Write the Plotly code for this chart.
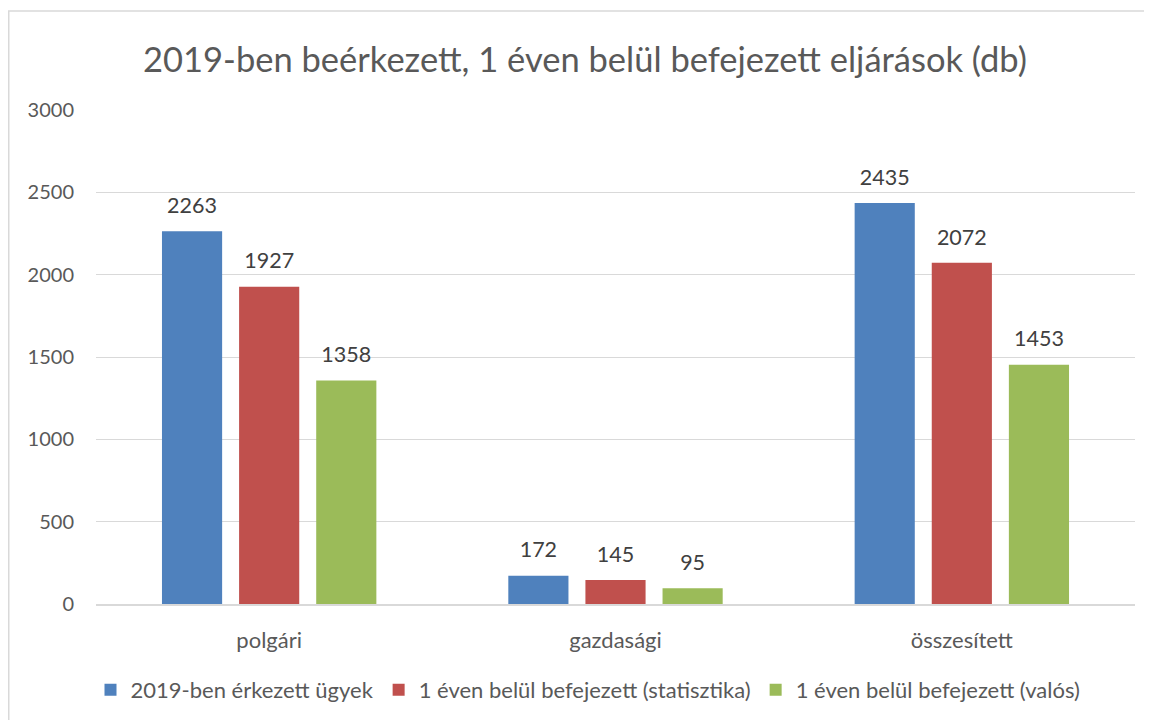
import plotly.graph_objects as go

categories = ["polgári", "gazdasági", "összesített"]
series_names = ["2019-ben érkezett ügyek", "1 éven belül befejezett (statisztika)", "1 éven belül befejezett (valós)"]
erkezett = [2263, 172, 2435]
statisztika = [1927, 145, 2072]
valos = [1358, 95, 1453]
colors = ["#4F81BD", "#C0504D", "#9BBB59"]
y_ticks = [0, 500, 1000, 1500, 2000, 2500, 3000]

FONT = "Lato"
BARGAP = 0.332
fig = go.Figure()
for i, (name, vals, col) in enumerate(zip(series_names, [erkezett, statisztika, valos], colors)):
    fig.add_trace(go.Bar(
        x=categories, y=vals, name=name, marker=dict(color=col, line=dict(width=0)),
        offsetgroup=str(i), hoverinfo="skip",
    ))
for i, vals in enumerate([erkezett, statisztika, valos]):
    fig.add_trace(go.Scatter(
        x=categories, y=vals, mode="markers+text", showlegend=False,
        offsetgroup=str(i), hoverinfo="skip",
        marker=dict(size=19, opacity=0),
        text=[str(v) for v in vals], textposition="top center", cliponaxis=False,
        textfont=dict(family=FONT, size=21.5, color="#404040"),
    ))

# page has an 8px body margin: figure coordinates = page coordinates - 8
W, H = 1144, 712
L, R, T, B = 88, 17, 102, 116
pw, ph = W - L - R, H - T - B

fig.update_layout(
    width=W, height=H,
    margin=dict(l=L, r=R, t=T, b=B, autoexpand=False),
    paper_bgcolor="white", plot_bgcolor="white",
    barmode="group", bargap=BARGAP, bargroupgap=0.22,
    scattermode="group", scattergap=BARGAP,
    title=dict(text="2019-ben beérkezett, 1 éven belül befejezett eljárások (db)",
               x=577 / W, xanchor="center", y=1 - 52 / H, yanchor="middle",
               font=dict(family=FONT, size=34.5, color="#595959")),
    legend=dict(orientation="h", x=(580 - L) / pw, xanchor="center", y=(H - B - 682) / ph, yanchor="middle",
                font=dict(family=FONT, size=22, color="#595959"), traceorder="normal",
                itemwidth=30),
    xaxis=dict(showgrid=False, showline=True, linecolor="#D9D9D9", linewidth=1.5,
               tickfont=dict(family=FONT, size=22, color="#595959"), ticks=""),
    yaxis=dict(range=[0, 3000], tickvals=y_ticks, showgrid=True, gridcolor="#D9D9D9",
               zeroline=False, showline=False, ticks="", ticklen=0,
               tickfont=dict(family=FONT, size=20, color="#595959")),
    font=dict(family=FONT),
)
fig.update_yaxes(ticklabelstandoff=21)
fig.update_xaxes(ticklabelstandoff=16)

fig.add_shape(type="rect", xref="paper", yref="paper",
              x0=(0.75 - L) / pw, x1=(1160 - L) / pw,
              y0=(H - B - 730) / ph, y1=(H - B - 3) / ph,
              line=dict(color="#D9D9D9", width=1.5), fillcolor="rgba(0,0,0,0)", layer="below")

fig.write_html("out.html")
